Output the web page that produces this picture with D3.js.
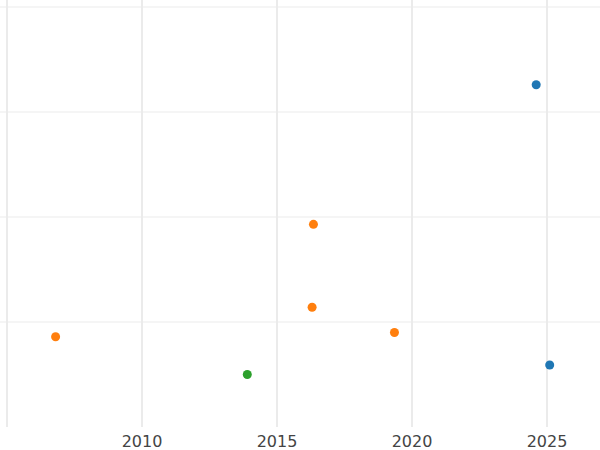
<!DOCTYPE html>
<html><head><meta charset="utf-8">
<script src="https://cdn.jsdelivr.net/npm/d3@7"></script>
<style>body{margin:0;background:#fff}</style></head>
<body><svg id="chart" width="600" height="450"></svg>
<script>
var xTicks = [2005, 2010, 2015, 2020, 2025];
var yGrid = [1, 2, 3, 4];
var years = [2024.6, 2025.1, 2006.8, 2016.35, 2016.3, 2019.35, 2013.9];
var values = [3.26, 0.59, 0.86, 1.93, 1.14, 0.90, 0.50];
var groups = ["a", "a", "b", "b", "b", "b", "c"];
var colors = {a: "#1f77b4", b: "#ff7f0e", c: "#2ca02c"};

var svg = d3.select("#chart");
var x = d3.scaleLinear().domain([2005, 2025]).range([7, 547]);
var y = d3.scaleLinear().domain([0, 4]).range([427, 7]);

svg.selectAll("line.h").data(yGrid).enter().append("line")
   .attr("x1", 0).attr("x2", 600)
   .attr("y1", function(d) { return y(d); }).attr("y2", function(d) { return y(d); })
   .attr("stroke", "#ebebeb").attr("stroke-width", 1);

svg.selectAll("line.v").data(xTicks).enter().append("line")
   .attr("x1", function(d) { return x(d); }).attr("x2", function(d) { return x(d); })
   .attr("y1", 0).attr("y2", 427)
   .attr("stroke", "#ebebeb").attr("stroke-width", 2);

svg.selectAll("text.t").data(xTicks.slice(1)).enter().append("text")
   .attr("x", function(d) { return x(d); }).attr("y", 447)
   .attr("text-anchor", "middle")
   .attr("font-family", "DejaVu Sans").attr("font-size", 16).attr("fill", "#444")
   .text(function(d) { return d; });

svg.selectAll("circle").data(years).enter().append("circle")
   .attr("cx", function(d) { return x(d); })
   .attr("cy", function(d, i) { return y(values[i]); })
   .attr("r", 4.5)
   .attr("fill", function(d, i) { return colors[groups[i]]; });
</script></body></html>
